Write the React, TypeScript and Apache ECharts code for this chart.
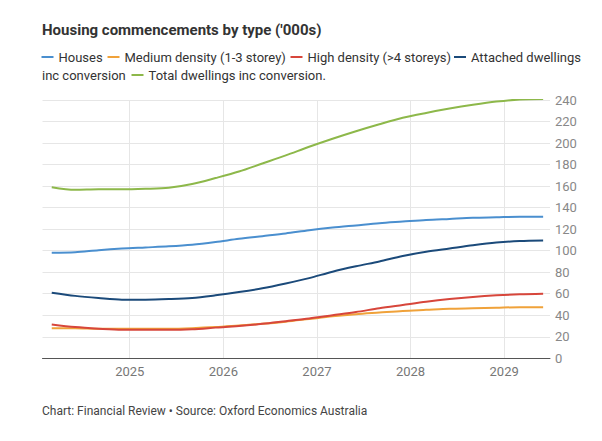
import React, { useEffect, useRef } from 'react';
import * as echarts from 'echarts';

const quarters = [
  '2024-03', '2024-06', '2024-09', '2024-12',
  '2025-03', '2025-06', '2025-09', '2025-12',
  '2026-03', '2026-06', '2026-09', '2026-12',
  '2027-03', '2027-06', '2027-09', '2027-12',
  '2028-03', '2028-06', '2028-09', '2028-12',
  '2029-03', '2029-06',
];

const houses = [98, 98.5, 100.5, 102, 103, 104, 105.5, 108, 111, 113.5, 116, 119, 121.5, 123.5, 125.5, 127, 128.5, 129.5, 130.5, 131, 131.5, 131.5];
const mediumDensity = [28, 28, 27.5, 27.5, 27.5, 27.5, 28, 29, 30.5, 32, 34, 36.5, 39, 41, 42.5, 44, 45, 46, 46.5, 47, 47.5, 47.5];
const highDensity = [31.5, 29, 27.5, 26.5, 26.5, 26.5, 27, 28.5, 30, 32, 34.5, 37, 40, 43, 46.5, 49.5, 52.5, 55, 57, 58.5, 59.5, 60];
const attached = [61, 58, 56, 54.5, 54.5, 55, 56, 58.5, 61.5, 65, 69.5, 74.5, 80.5, 85.5, 90, 95, 99, 102, 105, 107.5, 109, 109.5];
const total = [159, 156.5, 157, 157, 157.5, 158.5, 162, 167.5, 173.5, 181, 188.5, 196.5, 204, 211, 217.5, 223.5, 228, 232, 235.5, 238.5, 240.5, 241];

const yearTicks = [2025, 2026, 2027, 2028, 2029];

const seriesNames = [
  'Houses',
  'Medium density (1-3 storey)',
  'High density (>4 storeys)',
  'Attached dwellings inc conversion',
  'Total dwellings inc conversion.',
];
const seriesColors = ['#4a8fcf', '#f0a23a', '#d7463b', '#1b4a7a', '#8db84a'];
const seriesData = [houses, mediumDensity, highDensity, attached, total];

const FONT = 'Roboto, "Noto Sans", sans-serif';

function toYear(q: string): number {
  const [y, m] = q.split('-').map(Number);
  return y + (m - 1) / 12;
}

export default function App() {
  const ref = useRef<HTMLDivElement>(null);

  useEffect(() => {
    if (!ref.current) return;
    const chart = echarts.init(ref.current, undefined, { renderer: 'svg' });
    const xs = quarters.map(toYear);

    const legendBase = {
      orient: 'horizontal',
      icon: 'rect',
      itemWidth: 12,
      itemHeight: 2,
      selectedMode: false,
      padding: 0,
      textStyle: { fontSize: 13, color: '#333', fontFamily: FONT, lineHeight: 16 },
    };

    chart.setOption({
      animation: false,
      backgroundColor: '#ffffff',
      title: {
        text: "Housing commencements by type ('000s)",
        left: 42,
        top: 22,
        padding: 0,
        textStyle: { fontSize: 15, fontWeight: 'bold', color: '#333', fontFamily: FONT },
      },
      legend: [
        { ...legendBase, data: [seriesNames[0]], left: 41.5, top: 49 },
        { ...legendBase, data: [seriesNames[1]], left: 107.5, top: 49 },
        { ...legendBase, data: [seriesNames[2]], left: 290.5, top: 49 },
        {
          ...legendBase,
          data: [seriesNames[3]],
          left: 454,
          top: 49,
          formatter: () => 'Attached dwellings',
        },
        { ...legendBase, data: [seriesNames[4]], left: 131.5, top: 67 },
      ],
      graphic: [
        {
          type: 'text',
          left: 42,
          top: 67,
          style: { text: 'inc conversion', fontSize: 13, fill: '#333', fontFamily: FONT, lineHeight: 16 },
        },
        {
          type: 'text',
          left: 42,
          top: 405,
          style: {
            text: 'Chart: Financial Review \u2022 Source: Oxford Economics Australia',
            fontSize: 12,
            fill: '#444',
            fontFamily: FONT,
          },
        },
      ],
      grid: {
        left: 42.5,
        right: 52,
        top: 100,
        bottom: 82.7,
        containLabel: false,
        outerBoundsMode: 'none',
      },
      xAxis: {
        type: 'value',
        min: 2024.068,
        max: 2029.49,
        axisLine: { show: true, lineStyle: { color: '#555', width: 1 } },
        axisTick: { show: false, customValues: yearTicks },
        axisLabel: {
          customValues: yearTicks,
          formatter: (v: number) => String(Math.round(v)),
          color: '#777',
          fontSize: 13,
          fontFamily: FONT,
          margin: 7,
        },
        splitLine: { show: true, lineStyle: { color: '#e6e6e6', width: 1 } },
      },
      yAxis: {
        type: 'value',
        position: 'right',
        min: 0,
        max: 240,
        interval: 20,
        axisLine: { show: false },
        axisTick: { show: false },
        axisLabel: { color: '#888', fontSize: 13, fontFamily: FONT, margin: 5 },
        splitLine: { show: true, lineStyle: { color: '#e6e6e6', width: 1 } },
      },
      series: seriesNames.map((name, i) => ({
        name,
        type: 'line',
        smooth: 0.3,
        symbol: 'none',
        color: seriesColors[i],
        lineStyle: { color: seriesColors[i], width: 2 },
        data: seriesData[i].map((v, j) => [xs[j], v]),
      })),
    });

    return () => chart.dispose();
  }, []);

  return (
    <div
      ref={ref}
      style={{ position: 'fixed', left: 0, top: 0, width: 602, height: 441, background: '#fff' }}
    />
  );
}
